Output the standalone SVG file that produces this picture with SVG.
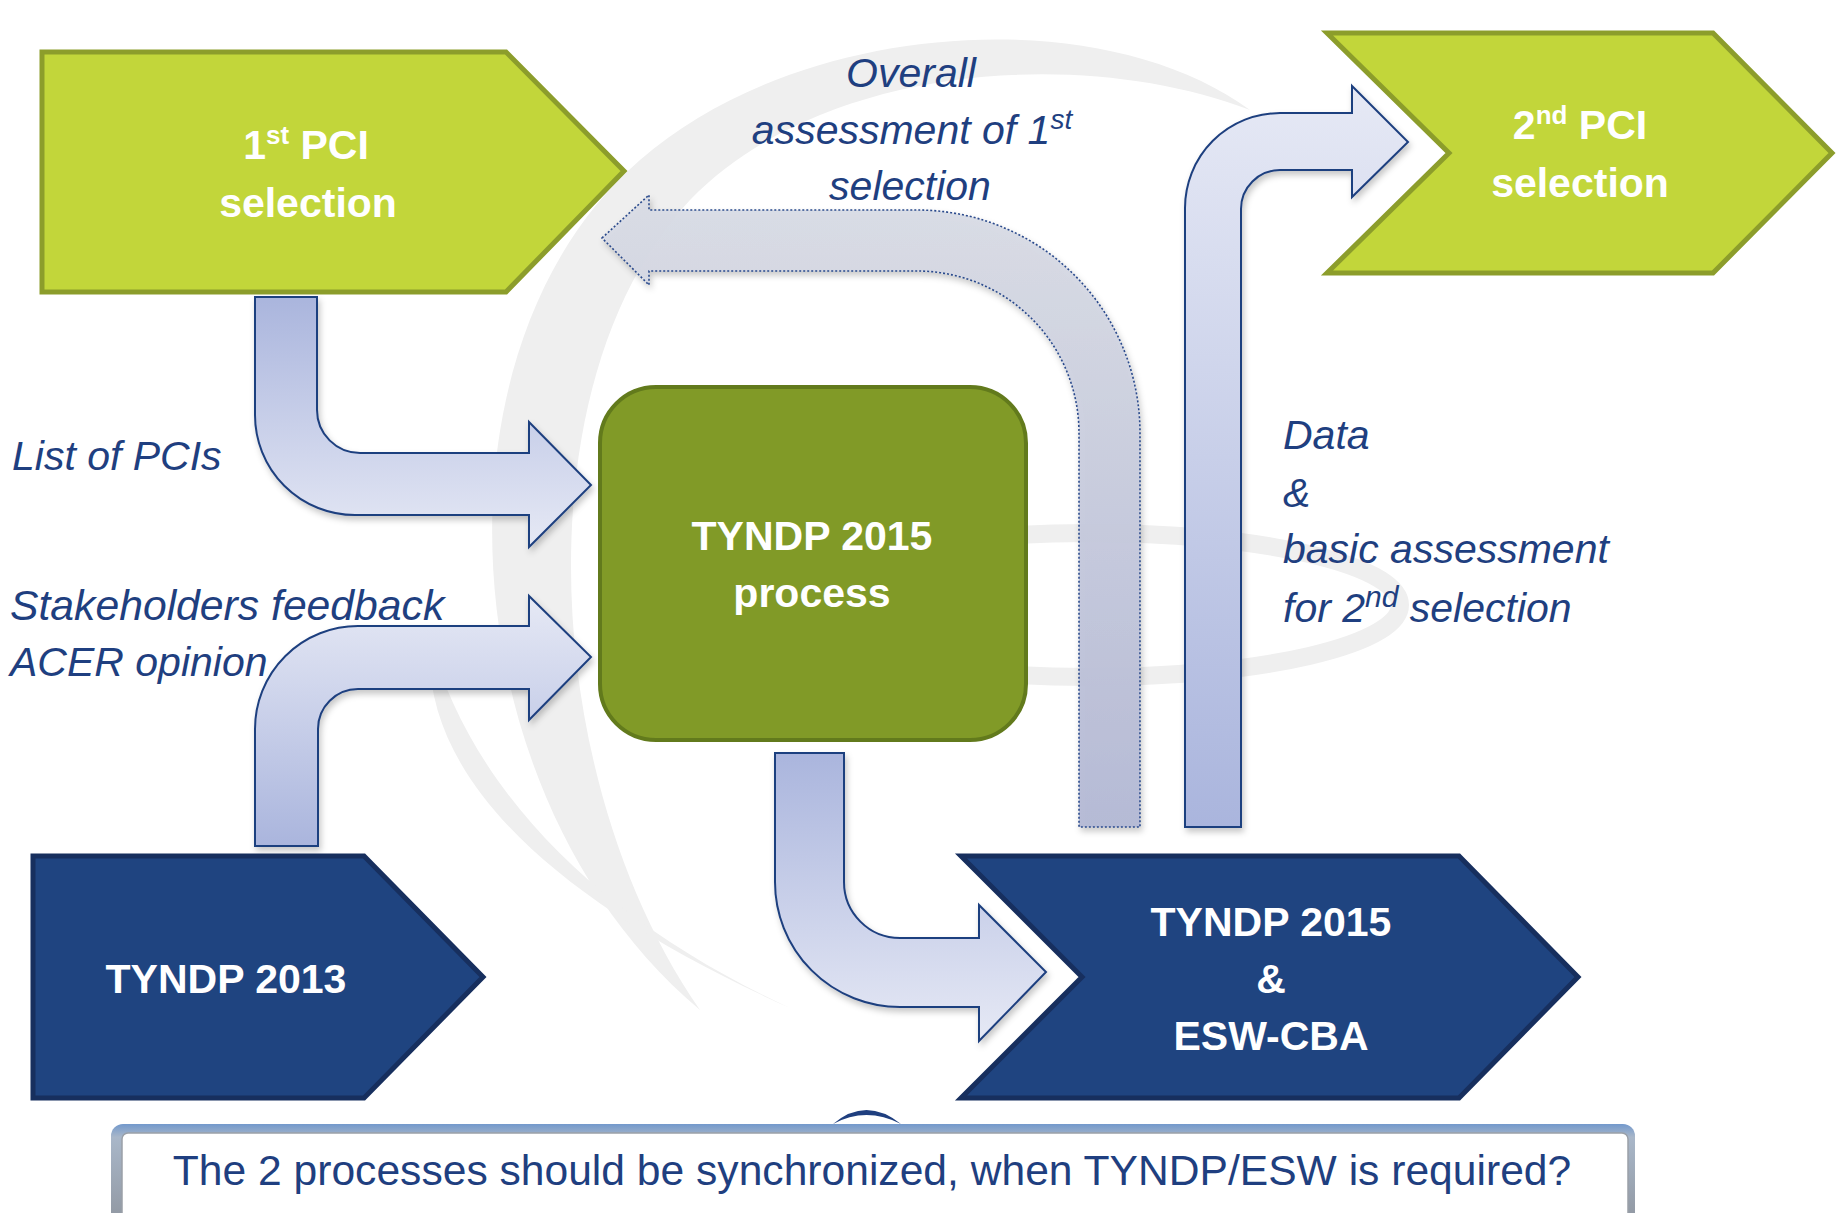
<svg xmlns="http://www.w3.org/2000/svg" width="1837" height="1213" viewBox="0 0 1837 1213">
<style>
.lbl{font-family:"Liberation Sans",Arial,sans-serif;font-weight:bold;fill:#ffffff;font-size:41px;text-anchor:middle}
.it{font-family:"Liberation Sans",Arial,sans-serif;font-style:italic;fill:#1f3f80;font-size:41px}
.arr{stroke:#1f3f7f;stroke-width:2;stroke-linejoin:miter}
.dot{stroke:#2a4a8c;stroke-width:1.6;stroke-dasharray:2 2;fill:url(#gGrey)}
.green{fill:#c2d63a;stroke:#8c9d2b;stroke-width:5;stroke-linejoin:miter}
.blue{fill:#1f4480;stroke:#172f5e;stroke-width:5;stroke-linejoin:miter}
.wm{fill:#efefef}
</style>
<defs>
<linearGradient id="gDown" x1="0" y1="0" x2="0" y2="1">
<stop offset="0" stop-color="#aab5dd"/><stop offset="1" stop-color="#e6e9f5"/>
</linearGradient>
<linearGradient id="gUp" x1="0" y1="0" x2="0" y2="1">
<stop offset="0" stop-color="#e6e9f5"/><stop offset="1" stop-color="#aab5dd"/>
</linearGradient>
<linearGradient id="gGrey" x1="0" y1="0" x2="0" y2="1">
<stop offset="0" stop-color="#d9dce5" stop-opacity="0.95"/><stop offset="1" stop-color="#b3b8d4" stop-opacity="0.95"/>
</linearGradient>
<linearGradient id="gFrame" x1="0" y1="0" x2="0" y2="1">
<stop offset="0" stop-color="#7399cc"/><stop offset="0.12" stop-color="#a9b7c9"/><stop offset="1" stop-color="#8d939c"/>
</linearGradient>
<filter id="sh" x="-10%" y="-10%" width="130%" height="130%">
<feDropShadow dx="2" dy="4" stdDeviation="3" flood-color="#000000" flood-opacity="0.22"/>
</filter>
</defs>

<rect width="1837" height="1213" fill="#ffffff"/>

<g id="watermark">
<path class="wm" d="M700,1010 C450,800 420,350 640,160 C800,20 1100,0 1250,110 C1080,45 820,65 690,200 C520,380 540,780 700,1010 Z"/>
<path class="wm" d="M790,1008 C560,905 420,780 430,640 C475,800 610,925 790,1008 Z"/>
<ellipse cx="1090" cy="605" rx="310" ry="72" fill="none" stroke="#efefef" stroke-width="18"/>
</g>

<g id="connectors">
<path id="arrow-list-pcis" class="arr" fill="url(#gDown)" filter="url(#sh)" d="M255,297 L317,297 L317,410 A43,43 0 0 0 360,453 L529,453 L529,422 L591,485 L529,547 L529,515 L355,515 A100,100 0 0 1 255,415 Z"/>
<path id="arrow-stakeholders" class="arr" fill="url(#gUp)" filter="url(#sh)" d="M255,846 L255,729 A103,103 0 0 1 358,626 L529,626 L529,596 L591,657 L529,720 L529,689 L358,689 A40,40 0 0 0 318,729 L318,846 Z"/>
<path id="arrow-process-out" class="arr" fill="url(#gDown)" filter="url(#sh)" d="M775,753 L844,753 L844,882 A56,56 0 0 0 900,938 L979,938 L979,905 L1046,972 L979,1041 L979,1007 L900,1007 A125,125 0 0 1 775,882 Z"/>
<path id="arrow-overall" class="dot" filter="url(#sh)" d="M602,238 L649,195 L649,210 L917,210 A223,223 0 0 1 1140,433 L1140,827 L1079,827 L1079,433 A162,162 0 0 0 917,271 L649,271 L649,285 Z"/>
<path id="arrow-data" class="arr" fill="url(#gUp)" filter="url(#sh)" d="M1185,827 L1185,208 A95,95 0 0 1 1280,113 L1352,113 L1352,86 L1408,142 L1352,197 L1352,170 L1280,170 A39,39 0 0 0 1241,209 L1241,827 Z"/>
</g>

<g id="node-1st-pci">
<polygon class="green" points="42,52 506,52 624,171 506,292 42,292"/>
<text class="lbl" x="306" y="159">1<tspan font-size="26" dy="-15">st</tspan><tspan dy="15"> PCI</tspan></text>
<text class="lbl" x="308" y="217">selection</text>
</g>

<g id="node-2nd-pci">
<polygon class="green" points="1327,33 1713,33 1832,153 1713,273 1327,273 1449,153"/>
<text class="lbl" x="1580" y="139">2<tspan font-size="26" dy="-15">nd</tspan><tspan dy="15"> PCI</tspan></text>
<text class="lbl" x="1580" y="197">selection</text>
</g>

<g id="node-process">
<rect x="600" y="387" width="426" height="353" rx="56" ry="56" fill="#819a27" stroke="#627a1c" stroke-width="4"/>
<text class="lbl" x="812" y="550">TYNDP 2015</text>
<text class="lbl" x="812" y="607">process</text>
</g>

<g id="node-tyndp2013">
<polygon class="blue" points="33,856 364,856 483,977 364,1098 33,1098"/>
<text class="lbl" x="226" y="993">TYNDP 2013</text>
</g>

<g id="node-tyndp2015-esw">
<polygon class="blue" points="961,856 1459,856 1578,977 1459,1098 961,1098 1082,977"/>
<text class="lbl" x="1271" y="936">TYNDP 2015</text>
<text class="lbl" x="1271" y="993">&amp;</text>
<text class="lbl" x="1271" y="1050">ESW-CBA</text>
</g>

<g id="labels">
<text class="it" x="12" y="470">List of PCIs</text>
<text class="it" x="10" y="620" style="font-size:42.7px">Stakeholders feedback</text>
<text class="it" x="10" y="676">ACER opinion</text>
<text class="it" x="911" y="87" text-anchor="middle">Overall</text>
<text class="it" x="912" y="144" text-anchor="middle">assessment of 1<tspan font-size="28" dy="-15">st</tspan></text>
<text class="it" x="910" y="200" text-anchor="middle">selection</text>
<text class="it" x="1283" y="449">Data</text>
<text class="it" x="1283" y="507">&amp;</text>
<text class="it" x="1283" y="563">basic assessment</text>
<text class="it" x="1283" y="622">for 2<tspan font-size="30" dy="-15">nd</tspan><tspan dy="15"> selection</tspan></text>
</g>

<g id="logo-peek">
<path d="M833,1124 Q866,1096 901,1124 Q866,1106 833,1124 Z" fill="#1f3f7f"/>
</g>

<g id="banner">
<rect x="111" y="1124" width="1524" height="110" rx="12" ry="12" fill="url(#gFrame)"/>
<rect x="122" y="1133" width="1506" height="95" rx="6" ry="6" fill="#ffffff" stroke="#9aa0a8" stroke-width="1.5"/>
<text x="872" y="1185" text-anchor="middle" font-family="Liberation Sans, Arial, sans-serif" font-size="42.6" fill="#1f3f80">The 2 processes should be synchronized, when TYNDP/ESW is required?</text>
</g>
</svg>
